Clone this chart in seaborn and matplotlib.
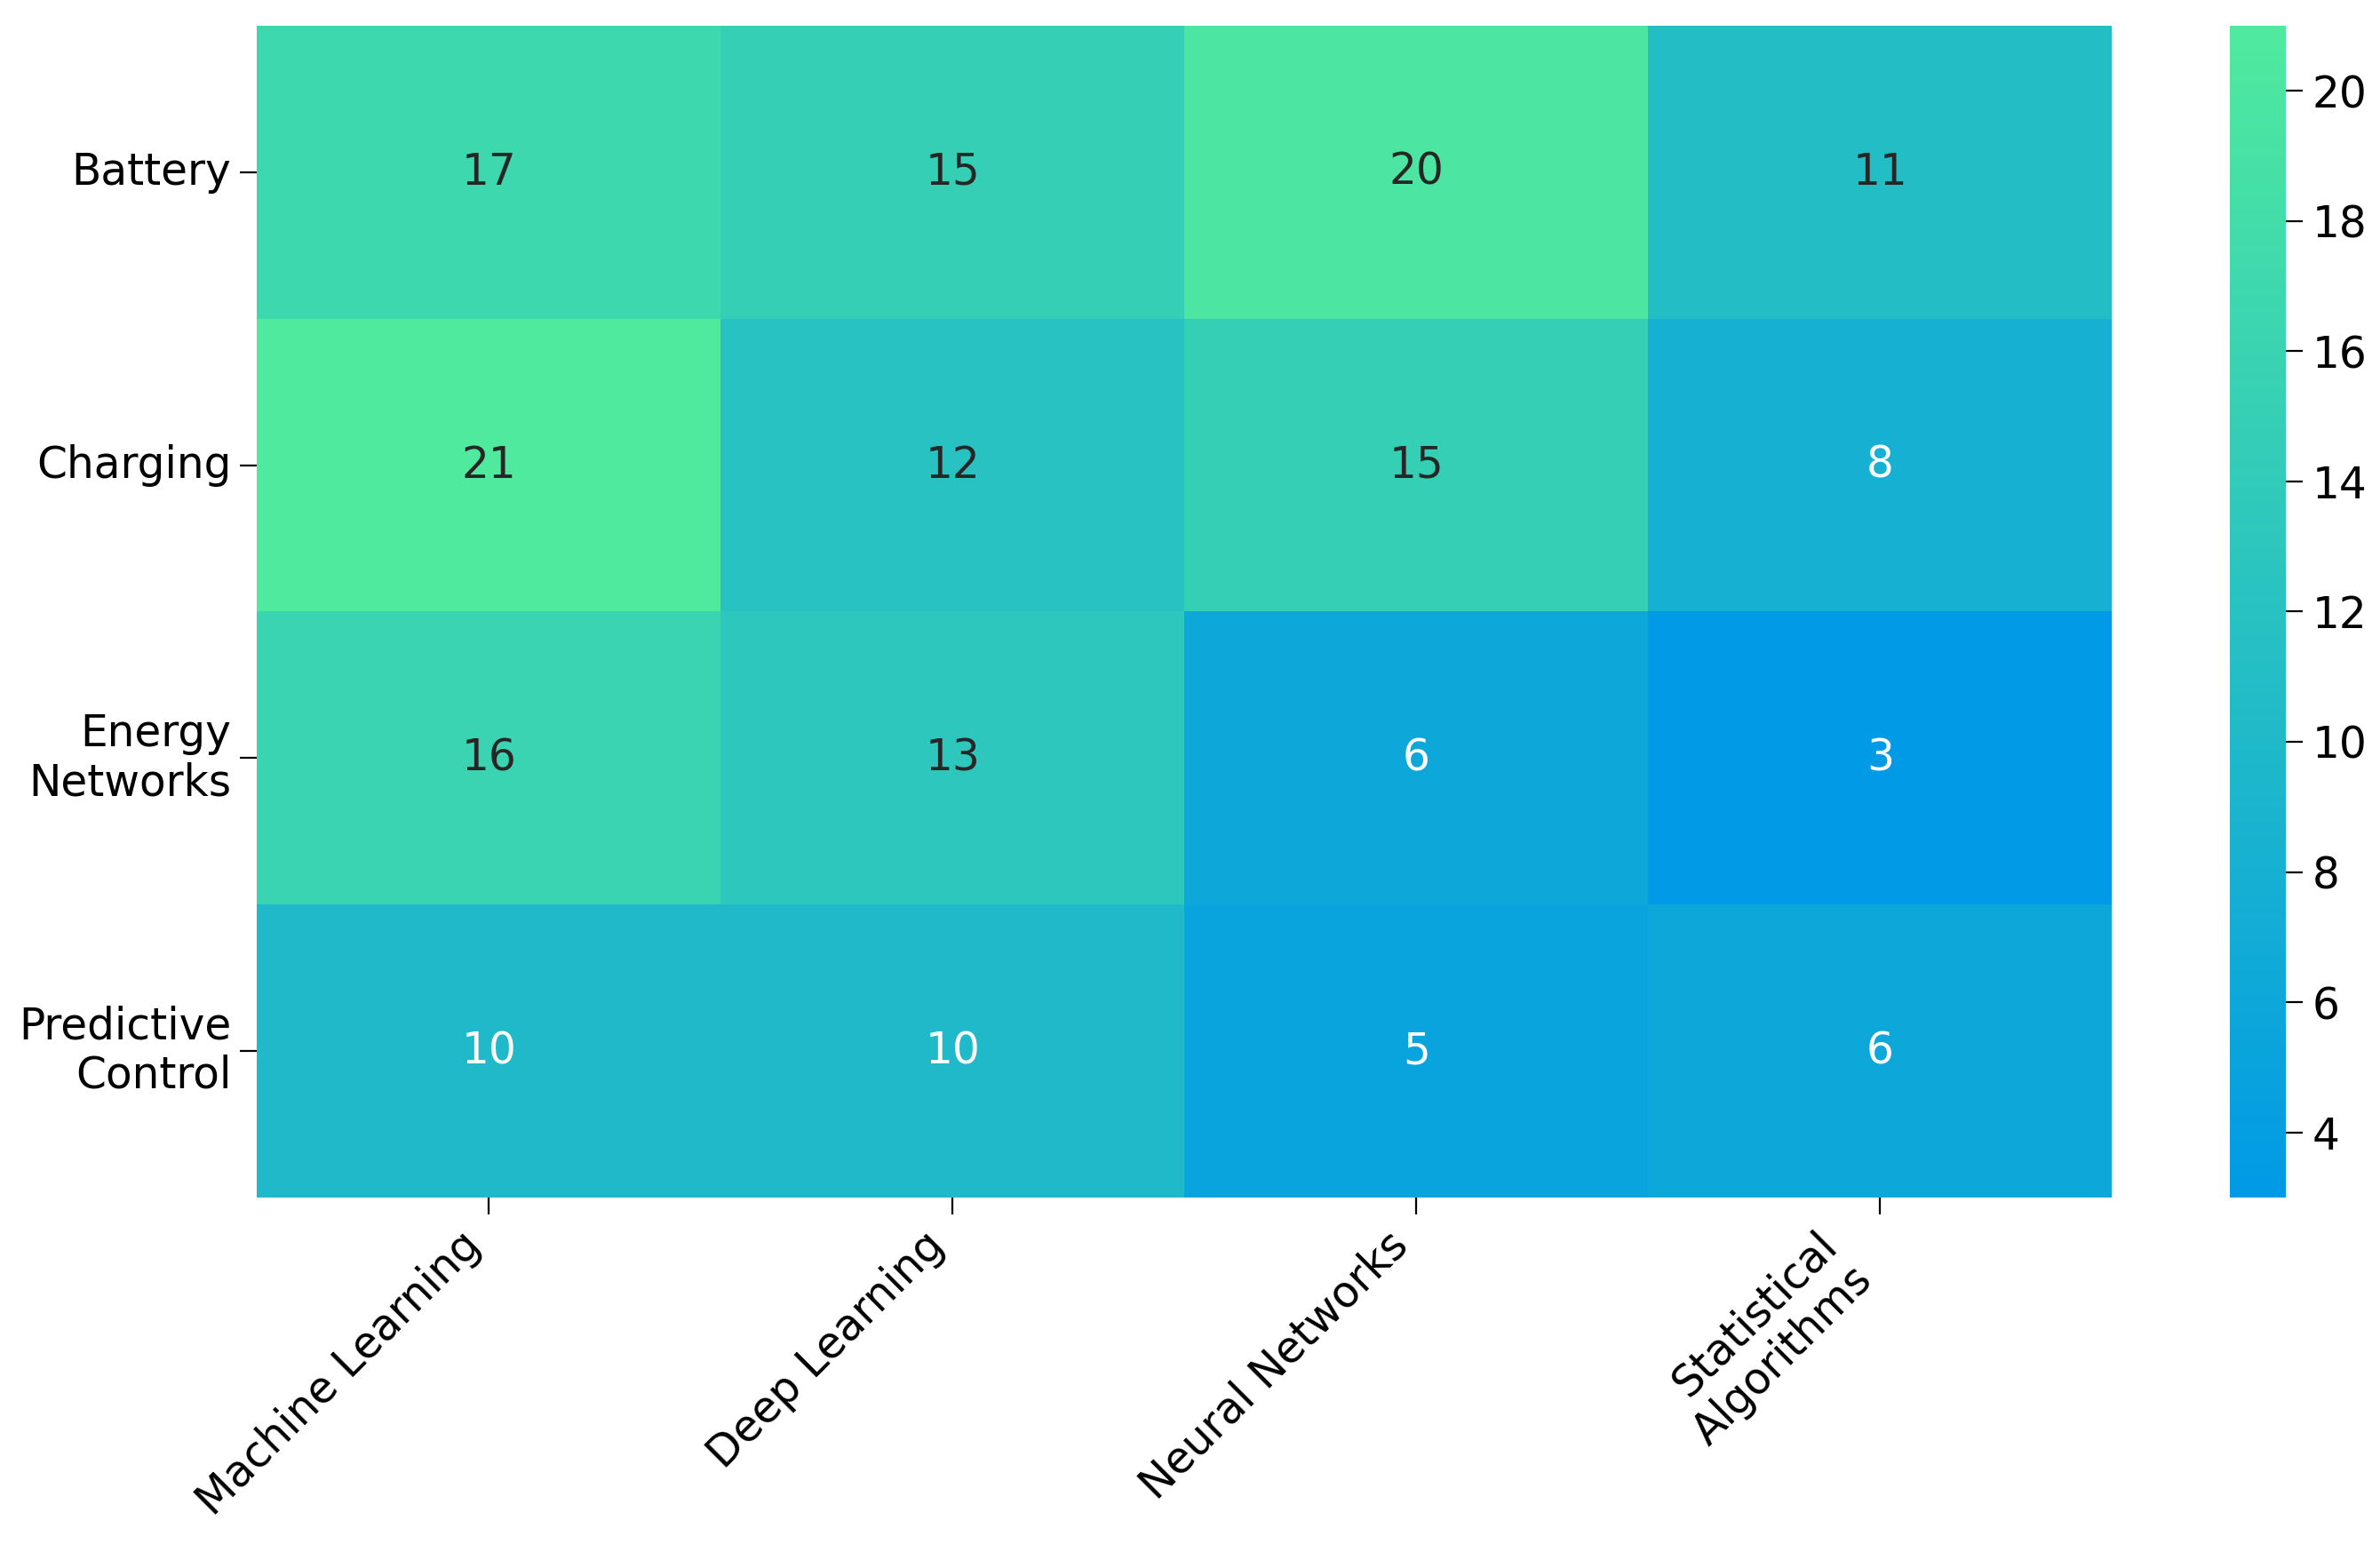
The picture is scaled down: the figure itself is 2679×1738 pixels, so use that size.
import numpy as np
import pandas as pd
import matplotlib
matplotlib.use("Agg")
import matplotlib.pyplot as plt
import seaborn as sns
from matplotlib.colors import LinearSegmentedColormap

rows = ["Battery", "Charging", "Energy\nNetworks", "Predictive\nControl"]
cols = ["Machine Learning", "Deep Learning", "Neural Networks", "Statistical\nAlgorithms"]
values = [
    [17, 15, 20, 11],
    [21, 12, 15, 8],
    [16, 13, 6, 3],
    [10, 10, 5, 6],
]
cbar_ticks = [4, 6, 8, 10, 12, 14, 16, 18, 20]


def main():
    data = pd.DataFrame(values, index=rows, columns=cols)
    cmap = LinearSegmentedColormap.from_list("bluegreen", ["#009ae6", "#50ea9e"])

    fig = plt.figure(figsize=(13.395, 8.69), dpi=200)
    ax = fig.add_axes([0.108, 0.2244, 0.7794, 0.759])
    cax = fig.add_axes([0.937, 0.2244, 0.0235, 0.759])

    sns.heatmap(data, ax=ax, cbar_ax=cax, cmap=cmap, annot=True, fmt="d",
                annot_kws={"size": 17.5})

    ax.set_xticklabels(ax.get_xticklabels(), rotation=45, ha="right",
                       fontsize=17.5)
    ax.set_yticklabels(ax.get_yticklabels(), rotation=0, fontsize=17.5)
    ax.tick_params(axis="both", length=7)
    cax.tick_params(labelsize=17.5, length=7)
    cax.set_yticks(cbar_ticks)
    for s in cax.spines.values():
        s.set_visible(False)

    fig.savefig("out.png", dpi=200)


if __name__ == "__main__":
    main()
